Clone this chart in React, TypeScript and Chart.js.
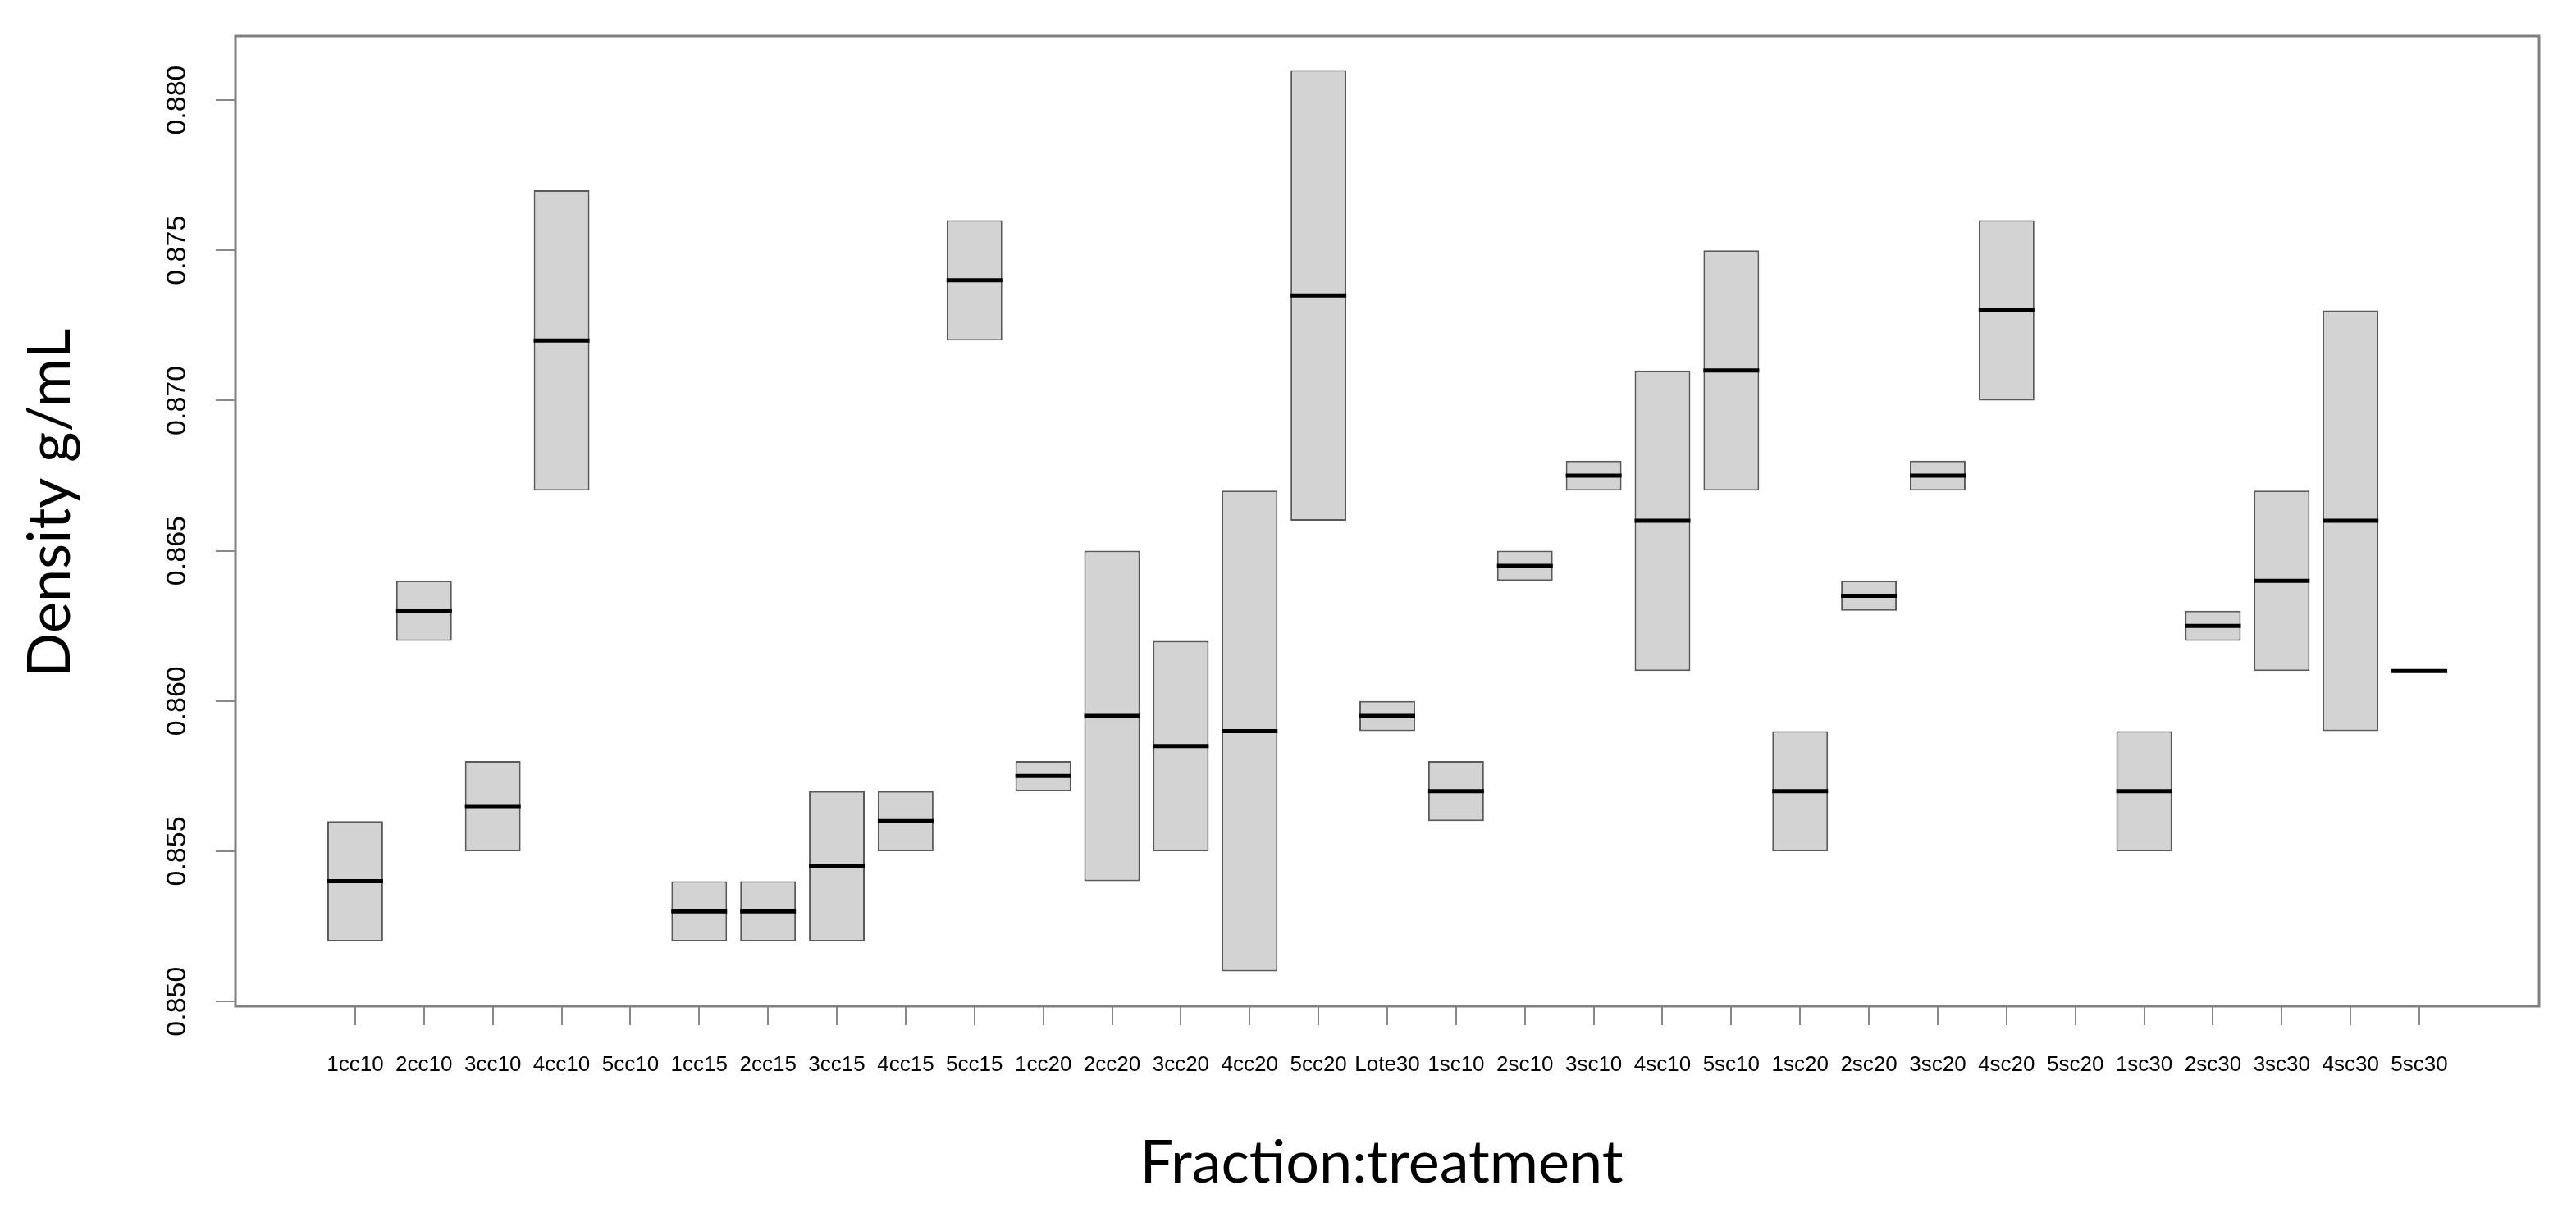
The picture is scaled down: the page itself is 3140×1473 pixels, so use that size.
import React, { useEffect, useRef } from 'react';
import { Chart, registerables } from 'chart.js';

Chart.register(...registerables);

const categories = [
  '1cc10', '2cc10', '3cc10', '4cc10', '5cc10',
  '1cc15', '2cc15', '3cc15', '4cc15', '5cc15',
  '1cc20', '2cc20', '3cc20', '4cc20', '5cc20',
  'Lote30',
  '1sc10', '2sc10', '3sc10', '4sc10', '5sc10',
  '1sc20', '2sc20', '3sc20', '4sc20', '5sc20',
  '1sc30', '2sc30', '3sc30', '4sc30', '5sc30',
];

const boxLow: (number | null)[] = [
  0.852, 0.862, 0.855, 0.867, null,
  0.852, 0.852, 0.852, 0.855, 0.872,
  0.857, 0.854, 0.855, 0.851, 0.866,
  0.859,
  0.856, 0.864, 0.867, 0.861, 0.867,
  0.855, 0.863, 0.867, 0.870, null,
  0.855, 0.862, 0.861, 0.859, 0.861,
];

const boxHigh: (number | null)[] = [
  0.856, 0.864, 0.858, 0.877, null,
  0.854, 0.854, 0.857, 0.857, 0.876,
  0.858, 0.865, 0.862, 0.867, 0.881,
  0.860,
  0.858, 0.865, 0.868, 0.871, 0.875,
  0.859, 0.864, 0.868, 0.876, null,
  0.859, 0.863, 0.867, 0.873, 0.861,
];

const medians: (number | null)[] = [
  0.854, 0.863, 0.8565, 0.872, null,
  0.853, 0.853, 0.8545, 0.856, 0.874,
  0.8575, 0.8595, 0.8585, 0.859, 0.8735,
  0.8595,
  0.857, 0.8645, 0.8675, 0.866, 0.871,
  0.857, 0.8635, 0.8675, 0.873, null,
  0.857, 0.8625, 0.864, 0.866, 0.861,
];

const yTicks = [0.85, 0.855, 0.86, 0.865, 0.87, 0.875, 0.88];
const yMin = 0.84984;
const yMax = 0.88213;
const xMin = -0.74;
const xMax = 32.74;

const xTitle = 'Fraction:treatment';
const yTitle = 'Density g/mL';

const titleFont = '72px Lato';

const framePlugin = {
  id: 'frameAndTitles',
  afterDraw(chart: any) {
    const { ctx, chartArea: a } = chart;
    ctx.save();
    ctx.strokeStyle = '#808080';
    ctx.lineWidth = 3;
    ctx.strokeRect(a.left, a.top, a.right - a.left, a.bottom - a.top);
    ctx.fillStyle = '#000';
    ctx.font = titleFont;
    ctx.textAlign = 'center';
    ctx.textBaseline = 'alphabetic';
    ctx.fillText(xTitle, (a.left + a.right) / 2 - 7, chart.height - 31);
    ctx.translate(a.left - 202, (a.top + a.bottom) / 2 - 22);
    ctx.rotate(-Math.PI / 2);
    ctx.fillText(yTitle, 0, 0);
    ctx.restore();
  },
};

export default function App() {
  const ref = useRef<HTMLCanvasElement | null>(null);

  useEffect(() => {
    document.body.style.margin = '0';
    const canvas = ref.current;
    if (!canvas) return;

    const boxData: any[] = [];
    const medData: any[] = [];
    categories.forEach((_, i) => {
      const lo = boxLow[i];
      const hi = boxHigh[i];
      const m = medians[i];
      if (lo != null && hi != null) boxData.push({ x: i + 1, y: [lo, hi] });
      if (m != null) medData.push({ x: i + 1, y: m });
    });

    const chart = new Chart(canvas, {
      type: 'bar',
      data: {
        datasets: [
          {
            type: 'bar',
            label: 'box',
            data: boxData,
            backgroundColor: '#d3d3d3',
            borderColor: '#5a5a5a',
            borderWidth: 2,
            borderSkipped: false,
            barPercentage: 0.81,
            categoryPercentage: 1,
            order: 2,
          } as any,
          {
            type: 'line',
            label: 'median',
            data: medData,
            showLine: false,
            pointStyle: 'line',
            pointRadius: 34,
            pointHoverRadius: 34,
            pointBorderWidth: 5,
            pointHoverBorderWidth: 5,
            pointBorderColor: '#000',
            pointBackgroundColor: '#000',
            borderColor: '#000',
            order: 1,
          } as any,
        ],
      },
      options: {
        animation: false,
        responsive: true,
        maintainAspectRatio: false,
        devicePixelRatio: 1,
        layout: { padding: { top: 44, right: 45, left: 0, bottom: 0 } },
        plugins: {
          legend: { display: false },
          tooltip: { enabled: false },
        },
        scales: {
          x: {
            type: 'linear',
            offset: false,
            min: xMin,
            max: xMax,
            afterBuildTicks: (s: any) => {
              s.ticks = categories.map((_, i) => ({ value: i + 1 }));
            },
            ticks: {
              autoSkip: false,
              maxRotation: 0,
              minRotation: 0,
              padding: 33,
              color: '#000',
              font: { family: 'Liberation Sans', size: 26 },
              callback: (v: any) => categories[Math.round(Number(v)) - 1] ?? '',
            },
            grid: {
              offset: false,
              drawOnChartArea: false,
              drawTicks: true,
              tickLength: 23,
              color: '#888888',
              lineWidth: 2,
            },
            border: { display: false },
            afterFit: (s: any) => {
              s.height = 246;
            },
          },
          y: {
            type: 'linear',
            min: yMin,
            max: yMax,
            afterBuildTicks: (s: any) => {
              s.ticks = yTicks.map((v) => ({ value: v }));
            },
            ticks: {
              minRotation: 90,
              maxRotation: 90,
              crossAlign: 'center',
              padding: 4,
              color: '#000',
              font: { family: 'Liberation Sans', size: 34 },
              callback: (v: any) => Number(v).toFixed(3),
            },
            grid: {
              drawOnChartArea: false,
              drawTicks: true,
              tickLength: 24,
              color: '#888888',
              lineWidth: 2,
            },
            border: { display: false },
            afterFit: (s: any) => {
              s.width = 287;
            },
          },
        },
      } as any,
      plugins: [framePlugin],
    });

    return () => {
      chart.destroy();
    };
  }, []);

  return (
    <div style={{ width: '3140px', height: '1473px', position: 'relative', background: '#fff' }}>
      <canvas ref={ref} />
    </div>
  );
}
